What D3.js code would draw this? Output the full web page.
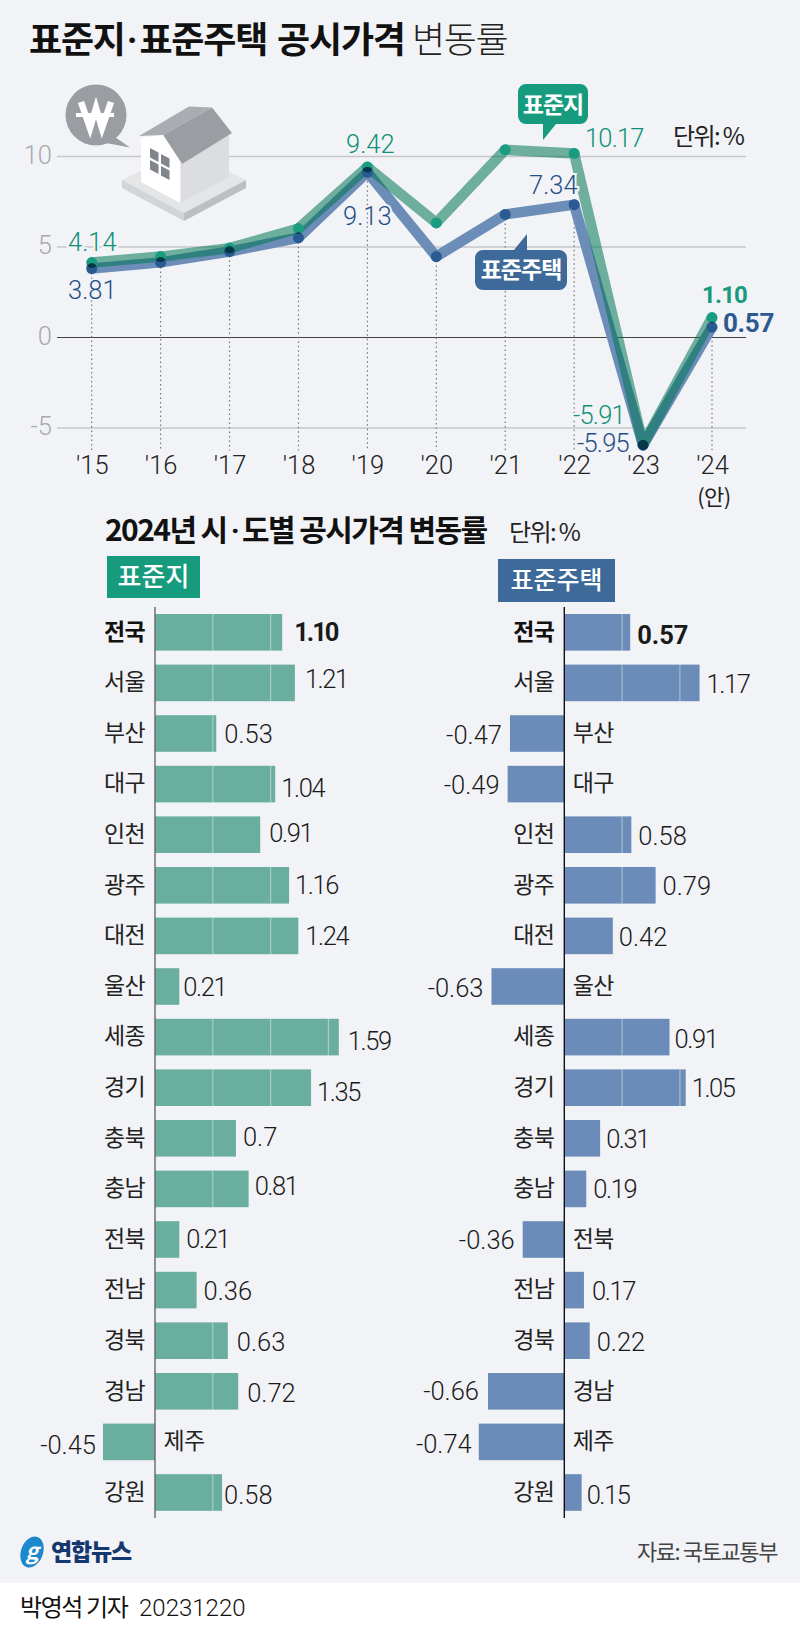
<!DOCTYPE html>
<html>
<head>
<meta charset="utf-8">
<script src="https://cdn.jsdelivr.net/npm/d3@7"></script>
<style>
    html, body { margin: 0; padding: 0; background: #fff; }
    svg { display: block; }
    text { font-family: "Noto Sans CJK KR", sans-serif; }
    .num { font-family: Roboto, sans-serif; font-weight: 300; font-size: 25.5px; }
    .dot { font-family: Roboto, sans-serif; }
</style>
</head>
<body>
<svg></svg>
<script>
const size = {w: 800, h: 1631};
const green = '#169b7e', blue = '#3e6a9a';
const svg = d3.select('svg').attr('width', size.w).attr('height', size.h);

svg.append('rect').attr('width', size.w).attr('height', 1583).attr('fill', '#f2f3f6');

function label(g, x, y, str, opts = {}) {
    return g.append('text')
        .attr('x', x).attr('y', y)
        .attr('dy', '.36em')
        .attr('text-anchor', opts.anchor || 'start')
        .attr('font-size', opts.size || 22)
        .attr('font-weight', opts.weight || 400)
        .attr('letter-spacing', opts.ls || 0)
        .attr('fill', opts.fill || '#1a1a1a')
        .text(str);
}

// TITLE
label(svg, 29, 40, '', {size: 36, weight: 700, ls: -1.2, fill: '#111'})
    .html('표준지<tspan class="dot" dx="2">·</tspan><tspan dx="3">표준주택</tspan><tspan dx="3"> 공시가격</tspan>');
label(svg, 412, 40, '변동률', {size: 36, weight: 300, ls: -1.4, fill: '#222'});

// LINE CHART
const lineData = [
    {year: "'15", land: 4.14, house: 3.81},
    {year: "'16", land: 4.47, house: 4.15},
    {year: "'17", land: 4.94, house: 4.75},
    {year: "'18", land: 6.02, house: 5.51},
    {year: "'19", land: 9.42, house: 9.13},
    {year: "'20", land: 6.33, house: 4.47},
    {year: "'21", land: 10.37, house: 6.80},
    {year: "'22", land: 10.17, house: 7.34},
    {year: "'23", land: -5.91, house: -5.95},
    {year: "'24", land: 1.10, house: 0.57}
];

const x = d3.scalePoint().domain(lineData.map(d => d.year)).range([91.7, 712]);
const y = d3.scaleLinear().domain([0, 10]).range([337.5, 156.5]);
const lineG = svg.append('g');

// grid lines
lineG.selectAll('.grid').data([10, 5, -5, 0]).join('line')
    .attr('x1', 57).attr('x2', 746)
    .attr('y1', d => y(d)).attr('y2', d => y(d))
    .attr('stroke', d => d === 0 ? '#444' : '#c6c7ca')
    .attr('stroke-width', d => d === 0 ? 1.1 : 1.6);

const yAxis = lineG.append('g')
    .attr('transform', 'translate(52,-1.5)')
    .call(d3.axisLeft(y).tickValues([10, 5, 0, -5]).tickSize(0).tickPadding(0).tickFormat(d => d));
yAxis.select('.domain').remove();
yAxis.selectAll('text').attr('class', 'num').attr('fill', '#a9aaad');

const xAxis = lineG.append('g')
    .attr('transform', 'translate(0,456)')
    .call(d3.axisBottom(x).tickSize(0).tickPadding(0));
xAxis.select('.domain').remove();
xAxis.selectAll('text').attr('class', 'num').attr('fill', '#222').attr('dy', '.71em');
label(svg, 714, 497, '(안)', {size: 22, anchor: 'middle', ls: -0.5, fill: '#222'});

// dotted lines from the lower point down
lineG.selectAll('.drop').data(lineData).join('line')
    .attr('x1', d => x(d.year)).attr('x2', d => x(d.year))
    .attr('y1', d => y(Math.min(d.land, d.house)))
    .attr('y2', 450.5)
    .attr('stroke', '#777')
    .attr('stroke-width', 1.2)
    .attr('stroke-dasharray', '1.5 3');

// house icon
const icon = svg.append('g');
const poly = (pts, fill) => icon.append('polygon').attr('points', pts).attr('fill', fill);
icon.append('circle').attr('cx', 96).attr('cy', 115).attr('r', 30.5).attr('fill', '#9a9ea3');
poly('112,135 130,147.5 106,143', '#9a9ea3');
icon.append('path').attr('d', 'M81,102L90,128L96,108L102,128L111,102').attr('fill', 'none')
    .attr('stroke', '#fff').attr('stroke-width', 6.5).attr('stroke-linejoin', 'miter');
icon.append('path').attr('d', 'M76,115H114').attr('stroke', '#fff').attr('stroke-width', 4);
poly('122,180 184,150 246,180 184,213', '#e4e5e7');
poly('122,180 184,213 184,221 122,188', '#d3d4d6');
poly('246,180 184,213 184,221 246,188', '#bcbec1');
poly('141,138 180.5,163 180.5,203 141,182', '#fff');
poly('180.5,163 229,135 229,177 180.5,203', '#dcdde0');
poly('139,136 189,106.5 212,107.5 163,135', '#a9adb2');
poly('212,107.5 232,133 182,164 163,135', '#9a9ea3');
poly('141,138 163,135 182,164 180.5,163', '#fff');
[[150, 148], [161, 154], [150, 160], [161, 166]].forEach(p => {
    poly(`${p[0]},${p[1]} ${p[0] + 8.5},${p[1] + 4.5} ${p[0] + 8.5},${p[1] + 14} ${p[0]},${p[1] + 9.5}`, '#80868c');
});

// lines
const lineGen = key => d3.line().x(d => x(d.year)).y(d => y(d[key]));
const marks = svg.append('g');
marks.append('path').datum(lineData)
    .attr('d', lineGen('house')).attr('fill', 'none')
    .attr('stroke', '#6b8db8').attr('stroke-width', 10.5).attr('stroke-linejoin', 'round');
marks.append('path').datum(lineData)
    .attr('d', lineGen('land')).attr('fill', 'none')
    .attr('stroke', 'rgb(0,117,84)').attr('stroke-opacity', 0.55)
    .attr('stroke-width', 10.5).attr('stroke-linejoin', 'round');
const dots = svg.append('g').style('isolation', 'isolate');
dots.selectAll('.dot-h').data(lineData).join('circle')
    .attr('cx', d => x(d.year)).attr('cy', d => y(d.house)).attr('r', 5.5)
    .attr('fill', '#2a5a92');
dots.selectAll('.dot-l').data(lineData).join('circle')
    .attr('cx', d => x(d.year)).attr('cy', d => y(d.land)).attr('r', 5.5)
    .attr('fill', '#1a9c80')
    .style('mix-blend-mode', 'multiply');

// value labels
const landText = '#0f9175', houseText = '#1f4f86';
const ptLabels = [
    ['4.14', 68, 241.7, landText], ['3.81', 68, 290, houseText],
    ['9.42', 346, 144, landText], ['9.13', 343, 216, houseText],
    ['10.17', 585, 138, landText], ['7.34', 529, 185, houseText],
    ['-5.91', 573, 415, landText], ['-5.95', 577, 443, houseText]
];
ptLabels.forEach(d => {
    const t = label(svg, d[1], d[2], d[0], {fill: d[3]}).attr('class', 'num')
        .attr('stroke', '#f2f3f6').attr('stroke-width', 4).attr('paint-order', 'stroke');
    if (d[0].startsWith('-') || d[0] === '10.17') t.attr('letter-spacing', -0.8);
});
label(svg, 702, 294, '1.10', {size: 24, weight: 700, fill: green, ls: -0.8}).style('font-family', 'Roboto');
label(svg, 723, 322.5, '0.57', {size: 26, weight: 700, fill: '#2c5a8f', ls: -0.3}).style('font-family', 'Roboto');
label(svg, 673, 136, '단위: %', {size: 24, ls: -1.6, fill: '#222'});

// callouts
function callout(path, fill, tx, ty, str) {
    svg.append('path').attr('d', path).attr('fill', fill);
    label(svg, tx, ty, str, {size: 23, weight: 700, anchor: 'middle', fill: '#fff', ls: -1});
}
callout('M526,84H580a8,8 0 0 1 8,8V116a8,8 0 0 1 -8,8H556L543,140V124H526a8,8 0 0 1 -8,-8V92a8,8 0 0 1 8,-8Z', green, 553, 105, '표준지');
callout('M483,250H514L527,234V250H559a8,8 0 0 1 8,8V282a8,8 0 0 1 -8,8H483a8,8 0 0 1 -8,-8V258a8,8 0 0 1 8,-8Z', blue, 521, 270, '표준주택');

// BAR CHARTS
label(svg, 105, 530, '', {size: 30, weight: 700, ls: -1.6, fill: '#111'})
    .html('2024년 시<tspan class="dot" dx="4">·</tspan><tspan dx="4">도별 공시가격 변동률</tspan>');
label(svg, 509, 532, '단위: %', {size: 24, ls: -1.6, fill: '#222'});

svg.append('rect').attr('x', 107).attr('y', 556).attr('width', 93).attr('height', 42).attr('fill', green);
label(svg, 153.5, 577, '표준지', {size: 26, weight: 500, anchor: 'middle', fill: '#fff'});
svg.append('rect').attr('x', 498).attr('y', 559).attr('width', 117).attr('height', 43).attr('fill', blue);
label(svg, 556.5, 580, '표준주택', {size: 25, weight: 500, anchor: 'middle', fill: '#fff'});

// name, land value, land label gap/dy, house value, house label gap/dy
const regions = [
    {name: '전국', land: '1.10', lg: 12, ld: 0, house: '0.57', hg: 7, hd: 3},
    {name: '서울', land: '1.21', lg: 10, ld: -4, house: '1.17', hg: 7, hd: 1},
    {name: '부산', land: '0.53', lg: 8, ld: 0, house: '-0.47', hg: 8, hd: 1},
    {name: '대구', land: '1.04', lg: 6, ld: 4, house: '-0.49', hg: 8, hd: 1},
    {name: '인천', land: '0.91', lg: 9, ld: -2, house: '0.58', hg: 7, hd: 1},
    {name: '광주', land: '1.16', lg: 6, ld: 0, house: '0.79', hg: 7, hd: 1},
    {name: '대전', land: '1.24', lg: 7, ld: 0, house: '0.42', hg: 6, hd: 1},
    {name: '울산', land: '0.21', lg: 4, ld: 0, house: '-0.63', hg: 8, hd: 1},
    {name: '세종', land: '1.59', lg: 9, ld: 4, house: '0.91', hg: 5, hd: 2},
    {name: '경기', land: '1.35', lg: 6, ld: 4, house: '1.05', hg: 6, hd: 0},
    {name: '충북', land: '0.7', lg: 7, ld: -1, house: '0.31', hg: 6, hd: 1},
    {name: '충남', land: '0.81', lg: 6, ld: -3, house: '0.19', hg: 7, hd: 0},
    {name: '전북', land: '0.21', lg: 7, ld: -1, house: '-0.36', hg: 8, hd: 0},
    {name: '전남', land: '0.36', lg: 7, ld: 1, house: '0.17', hg: 8, hd: 1},
    {name: '경북', land: '0.63', lg: 9, ld: 1, house: '0.22', hg: 7, hd: 1},
    {name: '경남', land: '0.72', lg: 9, ld: 2, house: '-0.66', hg: 9, hd: 0},
    {name: '제주', land: '-0.45', lg: 7, ld: 3, house: '-0.74', hg: 7, hd: 2},
    {name: '강원', land: '0.58', lg: 2, ld: 2, house: '0.15', hg: 5, hd: 2}
];

const band = d3.scaleBand().domain(regions.map(d => d.name))
    .range([614, 1510.8]).paddingInner(14 / 50.6);

function barChart(key, base, fill, axisColor) {
    const xs = d3.scaleLinear().domain([0, 1]).range([base, base + 115.6]);
    const gapKey = key === 'land' ? 'lg' : 'hg';
    const dyKey = key === 'land' ? 'ld' : 'hd';
    const g = svg.append('g');

    g.selectAll('rect').data(regions).join('rect')
        .attr('x', d => Math.min(xs(+d[key]), xs(0)))
        .attr('y', d => band(d.name))
        .attr('width', d => Math.abs(xs(+d[key]) - xs(0)))
        .attr('height', band.bandwidth())
        .attr('fill', fill);

    // pale lines every 0.5 inside the bars
    regions.forEach(r => {
        d3.range(0.5, +r[key], 0.5).forEach(t => {
            g.append('line')
                .attr('x1', xs(t)).attr('x2', xs(t))
                .attr('y1', band(r.name)).attr('y2', band(r.name) + band.bandwidth())
                .attr('stroke', '#fff').attr('stroke-opacity', 0.4).attr('stroke-width', 1.2);
        });
    });

    g.append('line')
        .attr('x1', base).attr('x2', base).attr('y1', 607).attr('y2', 1518)
        .attr('stroke', axisColor).attr('stroke-width', 1.4);

    regions.forEach(r => {
        const v = +r[key];
        const cy = band(r.name) + band.bandwidth() / 2;
        const bold = r.name === '전국';
        // region name sits on the other side of the axis from the bar
        label(g, v < 0 ? base + 8.5 : base - 10, cy - 1, r.name, {
            size: 23, ls: -0.6, weight: bold ? 700 : 400,
            anchor: v < 0 ? 'start' : 'end', fill: bold ? '#111' : '#222'
        });
        const t = label(g, v < 0 ? xs(v) - r[gapKey] : xs(v) + r[gapKey], cy + r[dyKey], r[key], {
            anchor: v < 0 ? 'end' : 'start', fill: '#1a1a1a'
        });
        t.attr('class', 'num');
        if (bold) t.style('font-weight', 700);
        if (r[key].includes('1')) t.attr('letter-spacing', bold ? -2 : -1.4);
    });
}

barChart('land', 155, '#6aae9f', '#666');
barChart('house', 564.3, '#6b8cb8', '#111');

// FOOTER
svg.append('ellipse').attr('cx', 32).attr('cy', 1552).attr('rx', 11).attr('ry', 16)
    .attr('transform', 'rotate(20 32 1552)').attr('fill', '#1e88cc');
label(svg, 32, 1551, 'g', {size: 22, weight: 700, anchor: 'middle', fill: '#fff'}).style('font-style', 'italic');
label(svg, 51, 1552, '연합뉴스', {size: 23, weight: 900, ls: -1.2, fill: '#14386e'});
label(svg, 777, 1552, '자료: 국토교통부', {size: 22, anchor: 'end', ls: -1.4, fill: '#444'});
label(svg, 20, 1607, '박영석 기자', {size: 24, ls: -1.4, fill: '#111'});
label(svg, 139, 1607, '20231220', {fill: '#111'}).attr('class', 'num').style('font-size', '24px');
</script>
</body>
</html>
